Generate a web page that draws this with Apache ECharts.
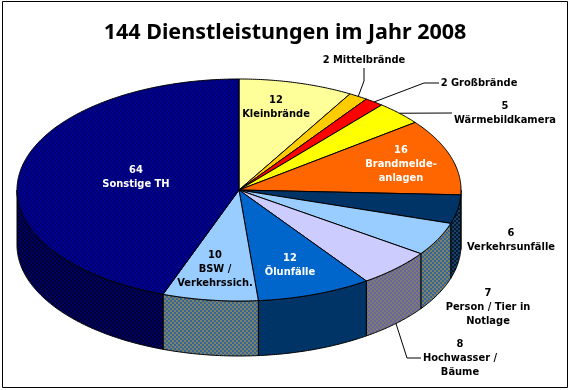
<!DOCTYPE html>
<html>
<head>
<meta charset="utf-8">
<style>
  html, body { margin: 0; padding: 0; background: #fff; }
  #chart { width: 570px; height: 390px; }
</style>
<script src="https://cdn.jsdelivr.net/npm/echarts@6/dist/echarts.min.js"></script>
</head>
<body>
<div id="chart"></div>
<script>
const titleText = '144 Dienstleistungen im Jahr 2008'
const names = ['Kleinbrände', 'Mittelbrände', 'Großbrände', 'Wärmebildkamera', 'Brandmelde-\nanlagen', 'Verkehrsunfälle', 'Person / Tier in\nNotlage', 'Hochwasser /\nBäume', 'Ölunfälle', 'BSW /\nVerkehrssich.', 'Sonstige TH']
const values = [12, 2, 2, 5, 16, 6, 7, 8, 12, 10, 64]

const topColors = ['#ffff99', '#ffcc00', '#ff0000', '#ffff00', '#ff6600', '#003366', '#99ccff', '#ccccff', '#0066cc', '#99ccff', ['#000070', '#000090']]
const sideColors = ['#808050', '#806600', '#800000', '#808000', '#803300', ['#001a33', '#1a4066'], ['#336699', '#808066'], ['#6666a0', '#807a70'], '#003366', ['#336699', '#808066'], ['#000033', '#000060']]
const textColors = ['#000', '#000', '#000', '#000', '#fff', '#000', '#000', '#000', '#fff', '#000', '#fff']

// label centre per slice, inline means value and name on one row
const labelPos = [[276, 107], [364, 60], [479, 83], [505, 113], [401, 164], [511, 240], [488, 307], [460, 358], [290, 265], [215, 269], [136, 177]]
const inline = [false, true, true, false, false, false, false, false, false, false, false]
// leader elbows, from the slice edge out to the label
const leaders = { 1: [[364, 81], [364, 68]], 2: [[424, 83], [439, 83]], 3: [[452, 113]], 7: [[407, 358], [421, 358]] }

const cx = 239
const cy = 190
const rx = 222
const ry = 111
const depth = 55
const total = values.reduce((a, b) => a + b, 0)

function checker (pair) {
  if (typeof pair === 'string') return pair
  const c = document.createElement('canvas')
  c.width = 4
  c.height = 4
  const g = c.getContext('2d')
  g.fillStyle = pair[0]
  g.fillRect(0, 0, 4, 4)
  g.fillStyle = pair[1]
  g.fillRect(0, 0, 2, 2)
  g.fillRect(2, 2, 2, 2)
  return { image: c, repeat: 'repeat' }
}

function pt (deg, dy) {
  const a = deg * Math.PI / 180
  return [cx + rx * Math.sin(a), cy - ry * Math.cos(a) + (dy || 0)]
}

function arc (from, to, dy) {
  const pts = []
  for (let d = from; d < to; d += 0.5) pts.push(pt(d, dy))
  pts.push(pt(to, dy))
  return pts
}

function renderSlice (params, api) {
  const i = api.value(0)
  let before = 0
  for (let k = 0; k < i; k++) before += values[k]
  const start = before / total * 360
  const end = (before + api.value(1)) / total * 360
  const children = []

  const sFrom = Math.max(start, 90)
  const sTo = Math.min(end, 270)
  if (sTo > sFrom) {
    children.push({
      type: 'polygon',
      shape: { points: arc(sFrom, sTo, 0).concat(arc(sFrom, sTo, depth).reverse()) },
      style: { fill: checker(sideColors[i]), stroke: '#000', lineWidth: 1 }
    })
  }
  children.push({
    type: 'polygon',
    shape: { points: [[cx, cy]].concat(arc(start, end, 0)) },
    style: { fill: checker(topColors[i]), stroke: '#000', lineWidth: 1 }
  })

  if (leaders[i]) {
    const mid = (start + end) / 2
    const anchor = pt(mid, mid > 90 && mid < 270 ? depth : 0)
    children.push({
      type: 'polyline',
      shape: { points: [anchor].concat(leaders[i]) },
      style: { fill: null, stroke: '#000', lineWidth: 1 }
    })
  }
  children.push({
    type: 'text',
    z2: 10,
    x: labelPos[i][0],
    y: labelPos[i][1],
    style: {
      text: values[i] + (inline[i] ? ' ' : '\n') + names[i],
      fill: textColors[i],
      font: 'bold 11px "DejaVu Sans Condensed", "DejaVu Sans"',
      lineHeight: 14,
      align: 'center',
      verticalAlign: 'middle'
    }
  })
  return { type: 'group', children: children }
}

const chart = echarts.init(document.getElementById('chart'))
chart.setOption({
  animation: false,
  backgroundColor: '#fff',
  title: {
    text: titleText,
    left: 'center',
    top: 17,
    textStyle: { fontFamily: 'Noto Sans', fontWeight: 'bold', fontSize: 21.5, color: '#000' }
  },
  graphic: [{
    type: 'rect',
    shape: { x: 2.5, y: 1.5, width: 565, height: 386 },
    style: { fill: null, stroke: '#000', lineWidth: 1 },
    silent: true
  }],
  series: [{
    type: 'custom',
    coordinateSystem: 'none',
    silent: true,
    clip: false,
    data: values.map((v, i) => [i, v]),
    renderItem: renderSlice
  }]
})
</script>
</body>
</html>
